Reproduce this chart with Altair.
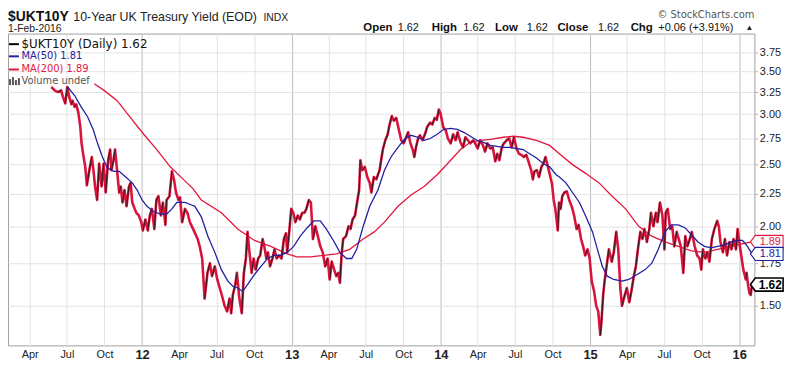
import altair as alt
import pandas as pd

# ---------------- data ----------------
price_dates = [
    "2011-05-24","2011-06-01","2011-06-09","2011-06-17","2011-06-21","2011-06-27","2011-07-02","2011-07-07",
    "2011-07-12","2011-07-15","2011-07-20","2011-07-24","2011-07-29","2011-08-03","2011-08-06","2011-08-11",
    "2011-08-15","2011-08-19","2011-08-25","2011-08-31","2011-09-04","2011-09-08","2011-09-13","2011-09-18",
    "2011-09-24","2011-09-29","2011-10-04","2011-10-10","2011-10-15","2011-10-18","2011-10-23","2011-10-27",
    "2011-10-31","2011-11-06","2011-11-10","2011-11-14","2011-11-19","2011-11-24","2011-11-30","2011-12-04",
    "2011-12-08","2011-12-14","2011-12-18","2011-12-24","2011-12-30","2012-01-03","2012-01-09","2012-01-15",
    "2012-01-20","2012-01-25","2012-01-31","2012-02-05","2012-02-10","2012-02-16","2012-02-21","2012-02-27",
    "2012-03-01","2012-03-08","2012-03-14","2012-03-19","2012-03-24","2012-03-30","2012-04-03","2012-04-08",
    "2012-04-15","2012-04-21","2012-04-27","2012-05-05","2012-05-16","2012-05-21","2012-05-27","2012-06-02",
    "2012-06-09","2012-06-15","2012-06-20","2012-06-27","2012-07-03","2012-07-09","2012-07-14","2012-07-21",
    "2012-07-27","2012-08-02","2012-08-06","2012-08-10","2012-08-16","2012-08-20","2012-08-26","2012-09-01",
    "2012-09-06","2012-09-11","2012-09-15","2012-09-19","2012-09-25","2012-09-30","2012-10-05","2012-10-11",
    "2012-10-16","2012-10-22","2012-10-26","2012-10-31","2012-11-04","2012-11-09","2012-11-15","2012-11-20",
    "2012-11-25","2012-12-01","2012-12-07","2012-12-13","2012-12-18","2012-12-21","2012-12-25","2012-12-31",
    "2013-01-05","2013-01-10","2013-01-16","2013-01-21","2013-01-27","2013-02-01","2013-02-06","2013-02-12",
    "2013-02-17","2013-02-22","2013-02-28","2013-03-06","2013-03-12","2013-03-18","2013-03-24","2013-03-30",
    "2013-04-04","2013-04-09","2013-04-15","2013-04-20","2013-04-25","2013-04-29","2013-05-03","2013-05-07",
    "2013-05-14","2013-05-20","2013-05-25","2013-05-30","2013-06-05","2013-06-10","2013-06-15","2013-06-18",
    "2013-06-23","2013-06-29","2013-07-05","2013-07-11","2013-07-15","2013-07-21","2013-07-27","2013-08-04",
    "2013-08-12","2013-08-18","2013-08-24","2013-08-28","2013-09-03","2013-09-08","2013-09-14","2013-09-19",
    "2013-09-26","2013-10-02","2013-10-08","2013-10-13","2013-10-18","2013-10-24","2013-10-28","2013-11-01",
    "2013-11-07","2013-11-11","2013-11-17","2013-11-23","2013-11-29","2013-12-06","2013-12-11","2013-12-17",
    "2013-12-22","2013-12-27","2013-12-31","2014-01-07","2014-01-13","2014-01-18","2014-01-25","2014-01-31",
    "2014-02-06","2014-02-11","2014-02-18","2014-02-24","2014-03-02","2014-03-08","2014-03-14","2014-03-21",
    "2014-03-26","2014-04-01","2014-04-07","2014-04-14","2014-04-19","2014-04-25","2014-05-02","2014-05-08",
    "2014-05-14","2014-05-19","2014-05-24","2014-05-30","2014-06-04","2014-06-11","2014-06-17","2014-06-23",
    "2014-06-29","2014-07-05","2014-07-11","2014-07-17","2014-07-23","2014-07-29","2014-08-05","2014-08-10",
    "2014-08-14","2014-08-18","2014-08-24","2014-08-29","2014-09-04","2014-09-09","2014-09-14","2014-09-20",
    "2014-09-24","2014-09-30","2014-10-04","2014-10-08","2014-10-14","2014-10-17","2014-10-21","2014-10-25",
    "2014-10-30","2014-11-05","2014-11-11","2014-11-18","2014-11-23","2014-11-29","2014-12-04","2014-12-10",
    "2014-12-15","2014-12-20","2014-12-26","2014-12-31","2015-01-05","2015-01-11","2015-01-16","2015-01-21",
    "2015-01-26","2015-01-29","2015-02-02","2015-02-06","2015-02-12","2015-02-16","2015-02-23","2015-02-28",
    "2015-03-06","2015-03-11","2015-03-16","2015-03-20","2015-03-27","2015-04-01","2015-04-07","2015-04-12",
    "2015-04-18","2015-04-23","2015-04-28","2015-05-04","2015-05-09","2015-05-14","2015-05-20","2015-05-26",
    "2015-05-30","2015-06-05","2015-06-11","2015-06-15","2015-06-21","2015-06-27","2015-07-02","2015-07-05",
    "2015-07-10","2015-07-16","2015-07-21","2015-07-26","2015-08-01","2015-08-06","2015-08-11","2015-08-17",
    "2015-08-22","2015-08-27","2015-09-02","2015-09-07","2015-09-14","2015-09-20","2015-09-26","2015-09-30",
    "2015-10-04","2015-10-10","2015-10-15","2015-10-20","2015-10-26","2015-11-01","2015-11-08","2015-11-12",
    "2015-11-16","2015-11-22","2015-11-27","2015-12-02","2015-12-08","2015-12-13","2015-12-18","2015-12-24",
    "2015-12-28","2016-01-01","2016-01-07","2016-01-11","2016-01-17","2016-01-19","2016-01-23","2016-01-26",
    "2016-01-29","2016-02-01",
]
price_vals = [
    3.31,3.27,3.25,3.27,3.20,3.12,3.31,3.19,
    3.11,3.15,3.08,3.11,3.02,2.86,2.70,2.57,
    2.48,2.32,2.45,2.57,2.45,2.31,2.20,2.51,
    2.31,2.51,2.26,2.54,2.64,2.45,2.54,2.64,
    2.48,2.26,2.31,2.18,2.28,2.15,2.31,2.34,
    2.18,2.13,2.10,2.08,2.03,1.97,2.05,1.97,
    2.08,2.13,1.98,2.20,2.23,2.08,2.18,2.01,
    2.20,2.23,2.44,2.37,2.26,2.20,2.22,2.03,
    2.13,2.10,2.03,1.98,1.91,1.86,1.78,1.54,
    1.69,1.75,1.67,1.73,1.65,1.60,1.56,1.50,
    1.47,1.54,1.46,1.56,1.62,1.69,1.54,1.46,
    1.69,1.78,1.96,1.84,1.69,1.78,1.71,1.78,
    1.80,1.91,1.86,1.78,1.82,1.73,1.78,1.84,
    1.78,1.80,1.78,1.91,1.95,1.82,1.93,2.13,
    2.10,2.03,2.08,2.05,2.10,2.10,2.13,2.20,
    2.18,1.91,2.00,1.93,1.86,1.82,1.73,1.78,
    1.65,1.76,1.71,1.67,1.69,1.63,1.80,1.91,
    1.93,2.00,1.98,2.05,2.08,2.18,2.28,2.54,
    2.45,2.48,2.39,2.34,2.26,2.39,2.37,2.45,
    2.64,2.73,2.79,2.88,2.98,2.93,2.96,2.86,
    2.73,2.70,2.76,2.81,2.71,2.64,2.57,2.66,
    2.76,2.78,2.73,2.79,2.87,2.91,2.89,2.96,
    2.94,3.05,3.01,2.86,2.83,2.75,2.70,2.79,
    2.73,2.81,2.71,2.66,2.76,2.73,2.70,2.73,
    2.70,2.65,2.73,2.68,2.62,2.70,2.65,2.66,
    2.53,2.60,2.54,2.66,2.70,2.73,2.75,2.66,
    2.76,2.65,2.60,2.59,2.57,2.59,2.51,2.45,
    2.37,2.44,2.45,2.39,2.48,2.51,2.57,2.48,
    2.42,2.33,2.20,2.13,1.97,2.18,2.13,2.23,
    2.26,2.27,2.20,2.14,2.08,1.98,2.01,1.91,
    1.86,1.80,1.84,1.78,1.64,1.58,1.50,1.47,
    1.35,1.42,1.56,1.65,1.76,1.84,1.76,1.82,
    1.96,1.84,1.60,1.50,1.56,1.60,1.52,1.58,
    1.67,1.73,1.84,1.96,1.91,1.98,1.89,1.98,
    2.10,2.00,2.10,2.03,2.18,2.08,1.84,2.10,
    2.13,1.98,2.00,1.86,1.96,1.91,1.86,1.69,
    1.93,1.86,1.91,1.96,1.86,1.80,1.78,1.71,
    1.84,1.78,1.82,1.76,1.91,1.98,2.04,2.00,
    1.89,1.82,1.91,1.80,1.89,1.84,1.91,1.84,
    1.98,1.89,1.78,1.71,1.65,1.69,1.61,1.57,
    1.56,1.62,
]

ma50_dates = [
    "2011-07-03","2011-07-20","2011-08-05","2011-08-21","2011-09-04","2011-09-14","2011-09-26","2011-10-08",
    "2011-10-24","2011-11-06","2011-11-22","2011-12-08","2011-12-20","2012-01-01","2012-01-13","2012-01-29",
    "2012-02-15","2012-03-01","2012-03-14","2012-03-26","2012-04-15","2012-05-01","2012-05-09","2012-05-25",
    "2012-06-10","2012-06-27","2012-07-13","2012-07-29","2012-08-10","2012-08-22","2012-09-03","2012-09-15",
    "2012-10-02","2012-10-18","2012-11-03","2012-11-19","2012-12-05","2012-12-21","2013-01-06","2013-01-22",
    "2013-02-08","2013-02-24","2013-03-12","2013-03-27","2013-04-13","2013-04-29","2013-05-15","2013-05-28",
    "2013-06-09","2013-06-25","2013-07-11","2013-07-31","2013-08-16","2013-09-01","2013-09-18","2013-10-04",
    "2013-10-20","2013-11-05","2013-11-21","2013-12-07","2013-12-23","2014-01-08","2014-01-25","2014-02-10",
    "2014-02-26","2014-03-14","2014-03-30","2014-04-15","2014-05-02","2014-05-18","2014-06-03","2014-06-19",
    "2014-07-05","2014-07-21","2014-08-06","2014-08-23","2014-09-08","2014-09-24","2014-10-10","2014-10-18",
    "2014-11-03","2014-11-19","2014-12-06","2014-12-22","2015-01-07","2015-01-19","2015-01-31","2015-02-12",
    "2015-02-28","2015-03-20","2015-04-06","2015-04-26","2015-05-16","2015-06-01","2015-06-17","2015-07-03",
    "2015-07-19","2015-08-05","2015-08-21","2015-09-06","2015-09-22","2015-10-08","2015-10-24","2015-11-09",
    "2015-11-26","2015-12-12","2015-12-28","2016-01-09","2016-01-21","2016-02-01",
]
ma50_vals = [
    3.31,3.21,3.08,2.97,2.83,2.70,2.57,2.47,
    2.44,2.44,2.39,2.34,2.28,2.20,2.15,2.11,
    2.09,2.09,2.13,2.18,2.18,2.16,2.15,2.07,
    1.93,1.82,1.71,1.64,1.61,1.60,1.58,1.62,
    1.68,1.73,1.78,1.80,1.80,1.82,1.86,1.93,
    1.99,2.04,2.04,1.98,1.90,1.82,1.78,1.78,
    1.84,2.00,2.15,2.28,2.45,2.57,2.66,2.74,
    2.78,2.76,2.73,2.75,2.79,2.84,2.85,2.84,
    2.81,2.77,2.73,2.71,2.68,2.67,2.66,2.66,
    2.65,2.64,2.60,2.56,2.51,2.48,2.41,2.39,
    2.34,2.26,2.18,2.07,1.96,1.84,1.73,1.67,
    1.65,1.64,1.65,1.68,1.71,1.75,1.84,1.96,
    2.01,2.01,1.99,1.94,1.89,1.86,1.85,1.86,
    1.87,1.89,1.90,1.90,1.86,1.81,
]

ma200_dates = [
    "2011-09-06","2011-09-30","2011-11-01","2011-12-04","2012-01-05","2012-02-06","2012-03-10","2012-04-11",
    "2012-05-05","2012-05-25","2012-07-13","2012-08-22","2012-10-02","2012-11-11","2012-12-21","2013-01-14",
    "2013-02-16","2013-03-20","2013-04-21","2013-05-23","2013-06-25","2013-07-22","2013-08-16","2013-09-18",
    "2013-10-20","2013-11-21","2013-12-23","2014-01-25","2014-02-18","2014-03-14","2014-04-07","2014-05-02",
    "2014-06-03","2014-06-27","2014-07-21","2014-08-23","2014-09-24","2014-10-18","2014-11-19","2014-12-22",
    "2015-01-23","2015-02-24","2015-03-29","2015-04-30","2015-06-01","2015-07-03","2015-08-05","2015-09-06",
    "2015-10-08","2015-11-09","2015-12-12","2016-01-13","2016-02-01",
]
ma200_vals = [
    3.35,3.27,3.15,2.96,2.79,2.64,2.48,2.37,
    2.29,2.20,2.10,1.98,1.90,1.86,1.81,1.79,
    1.79,1.80,1.81,1.84,1.91,1.96,2.03,2.15,
    2.24,2.31,2.41,2.54,2.64,2.71,2.73,2.74,
    2.76,2.77,2.76,2.73,2.68,2.60,2.50,2.42,
    2.34,2.23,2.13,2.00,1.93,1.89,1.86,1.83,
    1.82,1.84,1.86,1.88,1.89,
]

x_ticks = [
    "2011-04-01","2011-07-01","2011-10-01","2012-01-01","2012-04-01","2012-07-01","2012-10-01",
    "2013-01-01","2013-04-01","2013-07-01","2013-10-01","2014-01-01","2014-04-01","2014-07-01",
    "2014-10-01","2015-01-01","2015-04-01","2015-07-01","2015-10-01","2016-01-01",
]
x_domain = ["2011-02-07", "2016-02-07"]
y_ticks = [1.50, 1.75, 2.00, 2.25, 2.50, 2.75, 3.00, 3.25, 3.50, 3.75]
y_domain = [1.30, 4.016]

last_close = 1.62
last_ma50 = 1.81
last_ma200 = 1.89

# ---------------- styles ----------------
PRICE_RED = "#d8143c"
MA200_RED = "#e4163f"
MA50_BLUE = "#2020a0"
SANS = "Liberation Sans"
VERD = "DejaVu Sans"


def dt(s):
    t = pd.Timestamp(s)
    return alt.DateTime(year=t.year, month=t.month, date=t.day, utc=True)


year_test = "utcmonth(datum.value) == 0"

x_enc = alt.X(
    "date:T",
    scale=alt.Scale(type="utc", domain=[dt(x_domain[0]), dt(x_domain[1])]),
    axis=alt.Axis(
        values=[dt(s) for s in x_ticks],
        labelExpr="utcmonth(datum.value) == 0 ? utcFormat(datum.value, '%y') : utcFormat(datum.value, '%b')",
        grid=True,
        gridColor={"condition": {"test": year_test, "value": "#bdbdbd"}, "value": "#e3e3e3"},
        ticks=False,
        domain=False,
        labelFont=SANS,
        labelFontSize={"condition": {"test": year_test, "value": 13}, "value": 11},
        labelFontWeight={"condition": {"test": year_test, "value": "bold"}, "value": "normal"},
        labelColor="#222222",
        labelPadding=3,
        labelBaseline="top",
        title="",
    ),
)
y_enc = alt.Y(
    "v:Q",
    scale=alt.Scale(type="log", domain=y_domain, nice=False),
    axis=alt.Axis(
        orient="right",
        values=y_ticks,
        format=".2f",
        grid=True,
        gridColor="#e3e3e3",
        tickColor="#aaaaaa",
        tickSize=3,
        domain=False,
        labelFont=SANS,
        labelFontSize=11,
        labelColor="#222222",
        labelPadding=2,
        title="",
    ),
)

price = pd.DataFrame({"date": price_dates, "v": price_vals})
segs = price.copy()
segs["date2"] = segs["date"].shift(-1)
segs["v2"] = segs["v"].shift(-1)
segs = segs.dropna()
ups = segs[segs["v2"] > segs["v"]]

ma50 = pd.DataFrame({"date": ma50_dates, "v": ma50_vals})
ma200 = pd.DataFrame({"date": ma200_dates, "v": ma200_vals})

layers = []
layers.append(alt.Chart(ma200).mark_line(color=MA200_RED, strokeWidth=1.3).encode(x=x_enc, y=y_enc))
layers.append(alt.Chart(price).mark_line(color=PRICE_RED, strokeWidth=2.6, strokeJoin="round").encode(x=x_enc, y=y_enc))
layers.append(
    alt.Chart(ups).mark_rule(color="#1a1a1a", strokeWidth=0.9, strokeCap="butt").encode(
        x=x_enc, y=y_enc, x2=alt.X2("date2:T"), y2=alt.Y2("v2:Q")
    )
)
layers.append(alt.Chart(ma50).mark_line(color=MA50_BLUE, strokeWidth=1.3).encode(x=x_enc, y=y_enc))

# price tags at the right edge
TAG = "M -1 0 L -0.7 -0.4 L 1 -0.4 L 1 0.4 L -0.7 0.4 Z"
tag_scale = alt.Scale(type="log", domain=y_domain, nice=False)
for val, col, sw, bold in [(last_ma200, MA200_RED, 1.1, False), (last_ma50, MA50_BLUE, 1.1, False), (last_close, "#000000", 1.6, True)]:
    d = pd.DataFrame({"v": [val]})
    layers.append(
        alt.Chart(d).mark_point(shape=TAG, size=1089, filled=True, fill="white", stroke=col, strokeWidth=sw, opacity=1).encode(
            x=alt.value(766.5), y=alt.Y("v:Q", scale=tag_scale)
        )
    )
    layers.append(
        alt.Chart(d).mark_text(font=SANS, fontSize=12 if bold else 11, fontWeight="bold" if bold else "normal", color=col, align="center", baseline="middle").encode(
            x=alt.value(770), y=alt.Y("v:Q", scale=tag_scale), text=alt.Text("v:Q", format=".2f")
        )
    )

one = alt.Data(values=[{}])


def label(x, y, s, size=11, weight="normal", color="#000000", font=SANS, align="left", baseline="alphabetic"):
    return alt.Chart(one).mark_text(
        text=s, fontSize=size, fontWeight=weight, color=color, font=font, align=align, baseline=baseline
    ).encode(x=alt.value(x), y=alt.value(y))


def dash(x1, x2, y, color, width=2.0):
    return alt.Chart(one).mark_rule(color=color, strokeWidth=width).encode(
        x=alt.value(x1), x2=alt.value(x2), y=alt.value(y)
    )


# header (plot coords: page - (8, 32))
layers.append(label(0, -13, "$UKT10Y", size=14, weight="bold", color="#111111"))
layers.append(label(66, -13, "10-Year UK Treasury Yield (EOD)", size=12.5, color="#222222"))
layers.append(label(258, -13, "INDX", size=10.5, color="#222222"))
layers.append(label(0, -1.5, "1-Feb-2016", size=10.5, color="#222222"))
layers.append(label(754, -16, "© StockCharts.com", size=10, color="#555555", font=VERD, align="right"))

hdr = [
    (359, "Open", True), (393.7, "1.62", False), (428, "High", True), (460, "1.62", False),
    (492, "Low", True), (524, "1.62", False), (555, "Close", True), (596, "1.62", False),
    (629, "Chg", True), (657, "+0.06 (+3.91%)", False),
]
for xx, s, b in hdr:
    layers.append(label(xx, -3, s, size=11.5 if b else 11, weight="bold" if b else "normal", color="#111111"))
layers.append(label(745, -4, "▲", size=8, color="#222222"))

# in-chart legend
layers.append(dash(1, 11, 10.7, "#000000"))
layers.append(label(13.7, 10.7, "$UKT10Y (Daily) 1.62", size=12, color="#111111", font=VERD, baseline="middle"))
layers.append(dash(1, 11, 23, MA50_BLUE))
layers.append(label(13.7, 23, "MA(50) 1.81", size=10, color=MA50_BLUE, font=VERD, baseline="middle"))
layers.append(dash(1, 11, 36.3, MA200_RED))
layers.append(label(13.7, 36.3, "MA(200) 1.89", size=10, color=MA200_RED, font=VERD, baseline="middle"))
for bx, top in [(2, 46), (5, 44), (8, 47), (11, 45)]:
    layers.append(
        alt.Chart(one).mark_rule(color="#555555", strokeWidth=2).encode(
            x=alt.value(bx), y=alt.value(top), y2=alt.value(52)
        )
    )
layers.append(label(13.7, 48, "Volume undef", size=10, color="#555555", font=VERD, baseline="middle"))

chart = (
    alt.layer(*layers)
    .properties(
        width=754,
        height=315,
        padding={"left": 0, "top": 24, "right": 38, "bottom": 20},
        autosize=alt.AutoSizeParams(type="none"),
        background="white",
    )
    .configure_view(stroke="#a0a0a0", strokeWidth=1)
)

chart.save("out.html", embed_options={"renderer": "svg", "actions": False})
